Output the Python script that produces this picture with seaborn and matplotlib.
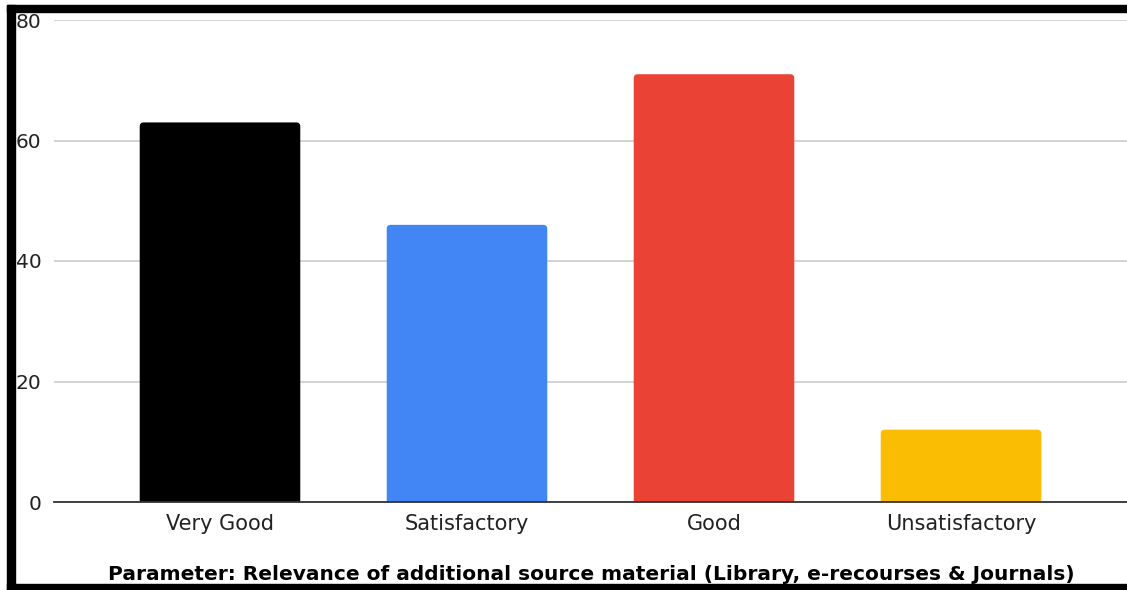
import matplotlib
matplotlib.use("Agg")
import matplotlib.pyplot as plt
import seaborn as sns
import pandas as pd
from matplotlib.patches import Rectangle, FancyBboxPatch

categories = ["Very Good", "Satisfactory", "Good", "Unsatisfactory"]
values = [63, 46, 71, 12]
colors = ["#000000", "#4285F4", "#EA4335", "#FBBC04"]
yticks = [0, 20, 40, 60, 80]
title = "Parameter: Relevance of additional source material (Library, e-recourses & Journals)"

sns.set_theme(style="white")
plt.rcParams["font.family"] = ["DejaVu Sans"]

df = pd.DataFrame({"cat": categories, "val": values})

fig = plt.figure(figsize=(11.27, 5.9), dpi=100)
ax = fig.add_axes([54 / 1127, 1 - 502 / 590, 1 - 54 / 1127, (502 - 20) / 590])

sns.barplot(data=df, x="cat", y="val", hue="cat", palette=colors, order=categories,
            hue_order=categories, width=0.65, legend=False, ax=ax, saturation=1)

ax.set_ylim(0, 80)
ax.set_xlim(-0.672, 3.672)

# give the bars slightly rounded top corners
fig.canvas.draw()
px_x = ax.transData.transform((1, 0))[0] - ax.transData.transform((0, 0))[0]
px_y = ax.transData.transform((0, 1))[1] - ax.transData.transform((0, 0))[1]
r_px = 4.0
for p in list(ax.patches):
    x0, y0 = p.get_x(), p.get_y()
    w, h = p.get_width(), p.get_height()
    fc = p.get_facecolor()
    p.remove()
    rs = r_px / px_x
    fb = FancyBboxPatch((x0, y0 - 2), w, h + 2,
                        boxstyle=f"round,pad=0,rounding_size={rs}",
                        mutation_aspect=(r_px / px_y) / rs,
                        facecolor=fc, edgecolor="none", zorder=2)
    ax.add_patch(fb)

ax.set_yticks(yticks)
ax.set_yticklabels([str(t) for t in yticks], fontsize=14.5, color="#222222")
ax.tick_params(axis="y", length=0, pad=9)
ax.tick_params(axis="x", length=0, pad=9, labelsize=15, labelcolor="#222222")
ax.set_xlabel("")
ax.set_ylabel("")
ax.grid(axis="y", color="#cccccc", linewidth=1.2)
ax.set_axisbelow(True)
for s in ["top", "right", "left"]:
    ax.spines[s].set_visible(False)
ax.spines["bottom"].set_color("#333333")
ax.spines["bottom"].set_linewidth(1.3)
ax.spines["bottom"].set_zorder(3)

fig.text(591 / 1127, 1 - 575 / 590, title, ha="center", va="center",
         fontsize=14.5, fontweight="bold", color="#000000")

# thick black frame (left, top, bottom)
W, H = 1127, 590
fig.patches.append(Rectangle((7 / W, 0), 8 / W, 1 - 5 / H, transform=fig.transFigure,
                             color="black", zorder=10))
fig.patches.append(Rectangle((7 / W, 1 - 12 / H), 1, 7 / H, transform=fig.transFigure,
                             color="black", zorder=10))
fig.patches.append(Rectangle((7 / W, 0), 1, 6 / H, transform=fig.transFigure,
                             color="black", zorder=10))

fig.savefig("out.png", dpi=100)
